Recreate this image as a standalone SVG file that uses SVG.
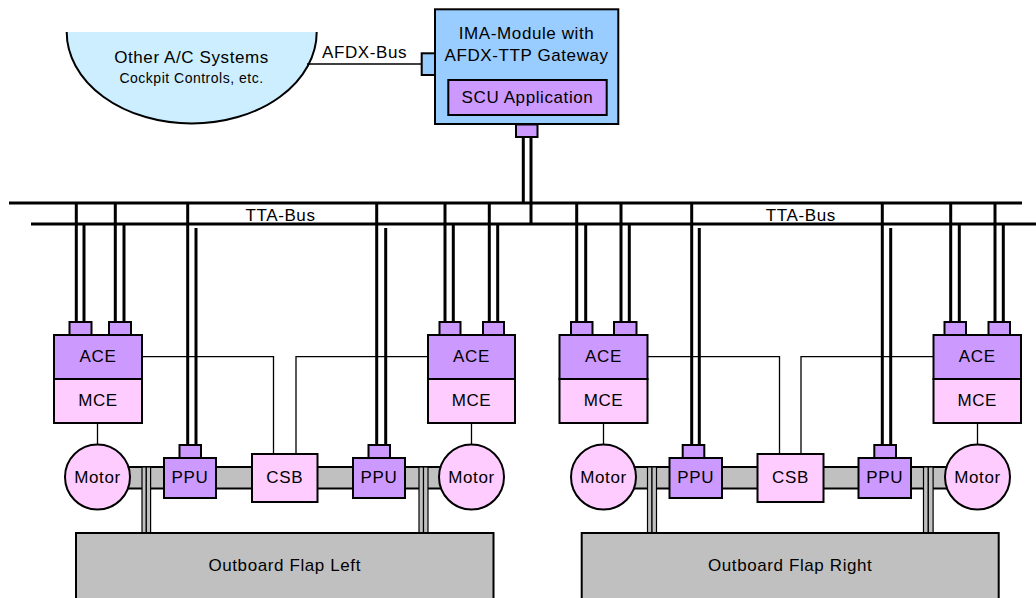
<svg xmlns="http://www.w3.org/2000/svg" width="1036" height="598" viewBox="0 0 1036 598">
<style>
text{font-family:"Liberation Sans",Arial,sans-serif;font-size:17px;letter-spacing:0.6px;fill:#000;text-anchor:middle}
.sm{font-size:14px;letter-spacing:0.5px}
.box{stroke:#000;stroke-width:2}
.pu{fill:#cc99ff}
.pk{fill:#ffccff}
.bl{fill:#99ccff}
.gr{fill:#c0c0c0}
.bus{stroke:#000;stroke-width:3;fill:none}
.thin{stroke:#000;stroke-width:1.3;fill:none}
.strut{fill:#c0c0c0;stroke:#000;stroke-width:1.2}
</style>
<rect width="1036" height="598" fill="#fff"/>

<g id="other-systems">
<path d="M66.7,32 A125,91.5 0 0 0 316.7,32 Z" fill="#cceeff" stroke="none"/>
<path d="M66.7,32 A125,91.5 0 0 0 316.7,32" fill="none" stroke="#000" stroke-width="2"/>
<text x="191.5" y="63">Other A/C Systems</text>
<text class="sm" x="191.5" y="83">Cockpit Controls, etc.</text>
</g>

<g id="connectors">
<path class="thin" d="M307,64 H422" stroke-width="2"/>
<text x="364.5" y="58">AFDX-Bus</text>
<!-- TTA buses -->
<path class="bus" d="M9,203 H1022"/>
<path class="bus" d="M31,224 H1036"/>
<text x="280.5" y="220.5">TTA-Bus</text>
<text x="800.8" y="220.5">TTA-Bus</text>
<!-- gateway -->
<path class="bus" d="M523.3,137 V203 M531,137 V224"/>
<!-- ACE links -->
<path class="bus" d="M76.3,203 V322 M84,224 V322 M115.3,203 V322 M124,224 V322"/>
<path class="bus" d="M445,203 V322 M453.3,224 V322 M489.3,203 V322 M497.7,224 V322"/>
<path class="bus" d="M576.7,203 V322 M585.7,224 V322 M621,203 V322 M629.3,224 V322"/>
<path class="bus" d="M950.7,203 V322 M959.3,224 V322 M995,203 V322 M1003.3,224 V322"/>
<!-- PPU links -->
<path class="bus" d="M187.7,203 V445 M196,228 V445"/>
<path class="bus" d="M376.7,203 V445 M385.7,228 V445"/>
<path class="bus" d="M691.7,203 V445 M699.3,228 V445"/>
<path class="bus" d="M882.3,203 V445 M890.7,228 V445"/>
<!-- ACE-CSB -->
<path class="thin" d="M142,356.7 H273.5 V454 M296,454 V356.7 H428"/>
<path class="thin" d="M647.5,356.7 H779.5 V454 M801,454 V356.7 H933.5"/>
<!-- MCE-Motor -->
<path class="thin" d="M97.5,423 V444.5 M471.5,423 V444.5 M603.5,423 V444.5 M977.5,423 V444.5"/>
</g>

<g id="shafts">
<rect class="box gr" x="97.5" y="467" width="374" height="21.5"/>
<rect class="box gr" x="603.5" y="467" width="374" height="21.5"/>
<rect class="strut" x="142" y="467" width="4.3" height="66"/>
<rect class="strut" x="146.3" y="467" width="4.3" height="66"/>
<rect class="strut" x="419" y="467" width="4.5" height="66"/>
<rect class="strut" x="423.5" y="467" width="4.5" height="66"/>
<rect class="strut" x="647.5" y="467" width="4.5" height="66"/>
<rect class="strut" x="652" y="467" width="4.5" height="66"/>
<rect class="strut" x="923.5" y="467" width="4.8" height="66"/>
<rect class="strut" x="928.3" y="467" width="4.8" height="66"/>
</g>

<g id="flap-left">
<rect class="box gr" x="76" y="533" width="417.5" height="70"/>
<text x="284.7" y="571">Outboard Flap Left</text>
</g>
<g id="flap-right">
<rect class="box gr" x="581.7" y="533" width="417" height="70"/>
<text x="790.2" y="571">Outboard Flap Right</text>
</g>

<g id="ima-module">
<rect class="box bl" x="421.7" y="53.3" width="13.3" height="21.7"/>
<rect class="box bl" x="435" y="9.3" width="183.3" height="114.7"/>
<text x="526.6" y="39">IMA-Module with</text>
<text x="526.6" y="61">AFDX-TTP Gateway</text>
<rect class="box pu" x="516" y="124.5" width="21.5" height="12.5"/>
</g>
<g id="scu">
<rect class="box pu" x="448.3" y="80" width="158.4" height="35"/>
<text x="527.5" y="103">SCU Application</text>
</g>

<g id="ace1">
<rect class="box pu" x="69.5" y="322" width="22" height="13"/>
<rect class="box pu" x="109" y="322" width="22" height="13"/>
<rect class="box pu" x="54" y="335" width="88" height="44"/>
<text x="98" y="362">ACE</text>
</g>
<g id="mce1">
<rect class="box pk" x="54" y="379" width="88" height="44"/>
<text x="98" y="406">MCE</text>
</g>
<g id="motor1">
<circle class="box pk" cx="97.5" cy="477" r="32.5"/>
<text x="97.5" y="483">Motor</text>
</g>
<g id="ppu1">
<rect class="box pu" x="179.5" y="445" width="21.5" height="13"/>
<rect class="box pu" x="164" y="458" width="52" height="40"/>
<text x="190" y="483">PPU</text>
</g>
<g id="csb1">
<rect class="box pk" x="252" y="454" width="65.5" height="48"/>
<text x="284.7" y="483">CSB</text>
</g>
<g id="ppu2">
<rect class="box pu" x="368.5" y="445" width="21.5" height="13"/>
<rect class="box pu" x="353" y="458" width="52" height="40"/>
<text x="379" y="483">PPU</text>
</g>
<g id="ace2">
<rect class="box pu" x="439.5" y="322" width="21" height="13"/>
<rect class="box pu" x="483" y="322" width="21" height="13"/>
<rect class="box pu" x="428" y="335" width="87" height="44"/>
<text x="471.5" y="362">ACE</text>
</g>
<g id="mce2">
<rect class="box pk" x="428" y="379" width="87" height="44"/>
<text x="471.5" y="406">MCE</text>
</g>
<g id="motor2">
<circle class="box pk" cx="471.5" cy="477" r="32.5"/>
<text x="471.5" y="483">Motor</text>
</g>

<g id="ace3">
<rect class="box pu" x="571" y="322" width="21.5" height="13"/>
<rect class="box pu" x="614" y="322" width="22.5" height="13"/>
<rect class="box pu" x="559.5" y="335" width="88" height="44"/>
<text x="603.5" y="362">ACE</text>
</g>
<g id="mce3">
<rect class="box pk" x="559.5" y="379" width="88" height="44"/>
<text x="603.5" y="406">MCE</text>
</g>
<g id="motor3">
<circle class="box pk" cx="603.5" cy="477" r="32.5"/>
<text x="603.5" y="483">Motor</text>
</g>
<g id="ppu3">
<rect class="box pu" x="682.7" y="445" width="21.6" height="13"/>
<rect class="box pu" x="669.5" y="458" width="52.5" height="40"/>
<text x="695.7" y="483">PPU</text>
</g>
<g id="csb2">
<rect class="box pk" x="757.5" y="454" width="66" height="48"/>
<text x="790.5" y="483">CSB</text>
</g>
<g id="ppu4">
<rect class="box pu" x="874.3" y="445" width="21.7" height="13"/>
<rect class="box pu" x="858.5" y="458" width="52.5" height="40"/>
<text x="884.7" y="483">PPU</text>
</g>
<g id="ace4">
<rect class="box pu" x="944.5" y="322" width="21.5" height="13"/>
<rect class="box pu" x="988.5" y="322" width="21.5" height="13"/>
<rect class="box pu" x="933.5" y="335" width="87.5" height="44"/>
<text x="977.2" y="362">ACE</text>
</g>
<g id="mce4">
<rect class="box pk" x="933.5" y="379" width="87.5" height="44"/>
<text x="977.2" y="406">MCE</text>
</g>
<g id="motor4">
<circle class="box pk" cx="977.5" cy="477" r="32.5"/>
<text x="977.5" y="483">Motor</text>
</g>
</svg>
